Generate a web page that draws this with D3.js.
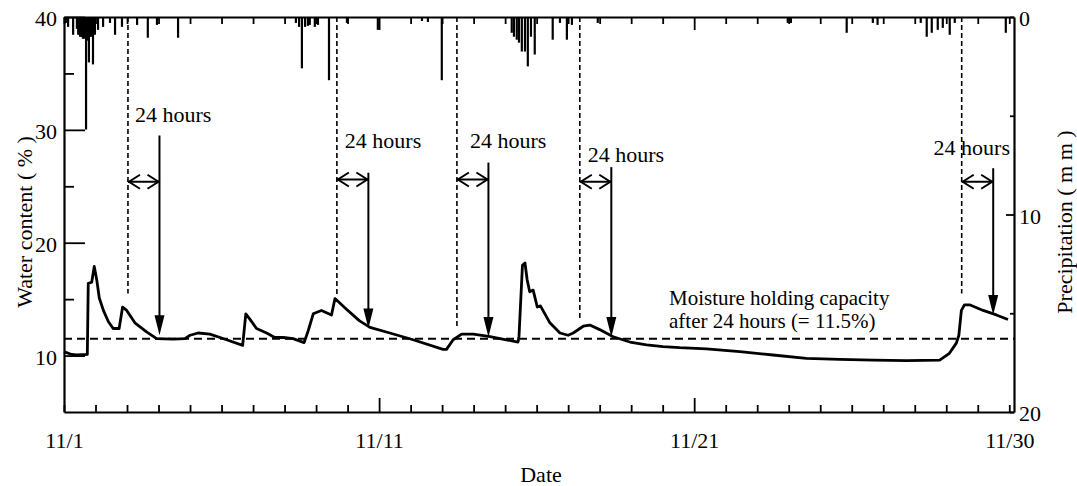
<!DOCTYPE html>
<html>
<head>
<meta charset="utf-8">
<script src="https://cdn.jsdelivr.net/npm/d3@7"></script>
<style>
  html, body { margin: 0; padding: 0; background: #fff; }
  svg { display: block; }
  svg text { font-family: "Liberation Serif", "Times New Roman", Times, Tinos, "Nimbus Roman", "DejaVu Serif", "Noto Serif", serif !important; }
</style>
</head>
<body>
<svg id="chart" width="1077" height="486"></svg>
<script>
// ---------------- DATA ----------------
// Water content (%) : time in days from 11/1 00:00
const wcDay = [0.00,0.24,0.40,0.74,0.77,0.88,0.96,1.04,1.12,1.25,1.41,1.56,1.75,1.86,1.99,2.25,2.62,2.94,3.47,3.84,4.00,4.26,4.63,5.16,5.67,5.77,5.88,6.11,6.43,6.69,6.96,7.27,7.62,7.75,7.91,8.17,8.49,8.60,8.93,9.37,9.71,10.34,11.08,12.03,12.14,12.35,12.62,12.99,13.52,14.04,14.41,14.44,14.55,14.63,14.70,14.78,14.89,15.02,15.12,15.42,15.74,16.00,16.16,16.48,16.69,17.00,17.43,17.96,18.49,19.01,19.54,20.39,21.45,22.50,23.56,24.62,25.68,26.74,27.79,28.10,28.32,28.40,28.48,28.58,28.74,29.17,29.59,29.96];
const wcPct = [10.35,10.1,10.05,10.1,16.4,16.5,17.9,16.7,15.1,14.0,13.0,12.4,12.4,14.3,14.0,12.9,12.1,11.5,11.45,11.5,11.8,12.0,11.9,11.4,10.9,13.7,13.3,12.4,12.0,11.6,11.6,11.5,11.15,12.2,13.7,14.0,13.6,15.05,14.2,13.1,12.5,12.0,11.4,10.55,10.55,11.4,11.9,11.9,11.67,11.4,11.2,11.7,18.0,18.2,16.7,15.65,15.8,14.3,14.4,12.9,12.0,11.8,12.0,12.6,12.7,12.3,11.67,11.2,10.95,10.8,10.7,10.6,10.35,10.05,9.75,9.67,9.6,9.55,9.6,10.2,11.1,11.8,14.0,14.5,14.5,14.0,13.6,13.2];

// Precipitation (mm) : hourly spikes
const rainDay = [0.06,0.13,0.29,0.41,0.45,0.51,0.55,0.57,0.60,0.63,0.66,0.70,0.74,0.79,0.83,0.86,0.92,0.98,1.08,1.24,1.46,1.62,1.84,2.32,2.66,2.95,3.62,7.36,7.46,7.55,7.65,7.74,7.80,7.96,8.06,8.41,8.98,9.96,11.36,11.55,11.99,14.21,14.28,14.37,14.44,14.53,14.63,14.72,14.82,14.94,15.51,15.74,15.96,16.12,16.94,22.97,23.07,24.84,25.67,25.82,27.19,27.38,27.54,27.73,27.89,28.11,28.27,29.89];
const rainMm  = [0.3,0.5,0.9,0.6,0.9,1.0,1.0,1.0,1.1,1.1,1.0,5.7,1.2,2.3,1.0,1.0,2.4,0.9,0.65,0.5,0.3,0.9,0.5,0.4,1.05,0.4,1.05,0.3,0.5,2.6,0.5,0.45,0.4,0.5,0.4,3.2,0.3,0.65,0.2,0.25,3.2,0.8,1.0,1.15,1.3,1.75,1.75,2.5,1.0,1.9,1.15,0.3,1.15,0.4,0.3,0.3,0.3,0.8,0.3,0.4,0.3,1.0,0.8,0.65,0.55,0.9,0.3,0.8];

// 24-hour annotations
const eventStartDay = [2.03, 8.66, 12.47, 16.37, 28.49];
const eventDashBottom = [15.5, 15.4, 12.5, 13.1, 15.5];   // % where dashed line stops
const eventArrowTop = [29.5, 26.2, 27.1, 26.7, 26.6];     // % top of arrow shaft
const eventArrowTip = [11.8, 12.4, 11.65, 11.65, 13.6];   // % arrow tip
const eventSpanLevel = [25.4, 25.6, 25.6, 25.4, 25.4];    // % level of the <-> marker
const eventLabelLevel = [30.7, 28.4, 28.4, 27.15, 27.8];  // % baseline of label
const eventLabel = "24 hours";

const capacityPct = 11.5;
const capacityLabel = ["Moisture holding capacity", "after 24 hours (= 11.5%)"];

const xTickDays = d3.range(0, 31);
const xMajorDays = [0, 10, 20, 30];
const xTickLabels = ["11/1", "11/11", "11/21", "11/30"];
const yLeftTicks = [10, 15, 20, 25, 30, 35, 40];
const yLeftLabels = [10, 20, 30, 40];
const yRightTicks = [0, 5, 10, 15, 20];
const yRightLabels = [0, 10, 20];

// ---------------- CHART ----------------
const svg = d3.select("#chart");
const L = 64, R = 1014, T = 17, B = 412;
const FS = 22;

const x = d3.scaleLinear().domain([0, 30.15]).range([L, R]);
const yL = d3.scaleLinear().domain([5, 40]).range([B, T]);
const yR = d3.scaleLinear().domain([0, 20]).range([T, B]);

// precipitation spikes (hanging from top)
svg.append("g").selectAll("line").data(rainDay).join("line")
  .attr("x1", d => x(d)).attr("x2", d => x(d))
  .attr("y1", yR(0)).attr("y2", (d, i) => yR(rainMm[i]))
  .attr("stroke", "#000").attr("stroke-width", 2.2);

// axes
function styleAxis(g) {
  g.attr("font-size", FS);
  g.select(".domain").attr("stroke", "#000").attr("stroke-width", 2.2);
  g.selectAll(".tick line").attr("stroke", "#000").attr("stroke-width", 1.8);
  g.selectAll(".tick text").attr("fill", "#000");
}
const labelOf = d => { const i = xMajorDays.indexOf(d); return i >= 0 ? xTickLabels[i] : ""; };

const gB = svg.append("g").attr("transform", `translate(0,${B})`)
  .call(d3.axisBottom(x).tickValues(xTickDays).tickSizeInner(-7).tickSizeOuter(0).tickFormat(labelOf));
styleAxis(gB);
gB.selectAll(".tick").filter(d => d === 10 || d === 20).select("line").attr("y2", -14);
gB.selectAll(".tick text").attr("y", 20);

const gT = svg.append("g").attr("transform", `translate(0,${T})`)
  .call(d3.axisTop(x).tickValues(xTickDays).tickSizeInner(-7).tickSizeOuter(0).tickFormat(""));
styleAxis(gT);
gT.selectAll(".tick").filter(d => d === 10 || d === 20).select("line").attr("y2", 13);

const gL = svg.append("g").attr("transform", `translate(${L},0)`)
  .call(d3.axisLeft(yL).tickValues(yLeftTicks).tickSizeInner(-10).tickSizeOuter(0)
    .tickFormat(d => yLeftLabels.includes(d) ? d : ""));
styleAxis(gL);
gL.selectAll(".tick").filter(d => yLeftLabels.includes(d)).select("line").attr("x2", 21);
gL.selectAll(".tick text").attr("x", -7).attr("dy", "0.4em");

const gR = svg.append("g").attr("transform", `translate(${R},0)`)
  .call(d3.axisRight(yR).tickValues(yRightTicks).tickSizeInner(-4).tickSizeOuter(0)
    .tickFormat(d => yRightLabels.includes(d) ? d : ""));
styleAxis(gR);
gR.selectAll(".tick").filter(d => d === 10).select("line").attr("x2", -8);
gR.selectAll(".tick text").attr("x", 5).attr("dy", "0.4em");

// capacity dashed line
svg.append("line")
  .attr("x1", L).attr("x2", R).attr("y1", yL(capacityPct)).attr("y2", yL(capacityPct))
  .attr("stroke", "#000").attr("stroke-width", 2).attr("stroke-dasharray", "8,5");

// water content curve
const line = d3.line().x(d => x(d[0])).y(d => yL(d[1]));
svg.append("path").datum(wcDay.map((d, i) => [d, wcPct[i]]))
  .attr("d", line).attr("fill", "none").attr("stroke", "#000")
  .attr("stroke-width", 2.8).attr("stroke-linejoin", "round");

// annotations
const ann = svg.append("g");
const labelDx = [7, 8, 13, 8, null];
eventStartDay.forEach((t0, i) => {
  const xa = x(t0), xb = x(t0 + 1);
  ann.append("line").attr("x1", xa).attr("x2", xa).attr("y1", T).attr("y2", yL(eventDashBottom[i]))
    .attr("stroke", "#000").attr("stroke-width", 1.6).attr("stroke-dasharray", "5,3");
  // down arrow
  const tipY = yL(eventArrowTip[i]);
  ann.append("line").attr("x1", xb).attr("x2", xb).attr("y1", yL(eventArrowTop[i])).attr("y2", tipY - 12)
    .attr("stroke", "#000").attr("stroke-width", 2);
  ann.append("path").attr("d", `M${xb},${tipY} L${xb - 5},${tipY - 20} L${xb + 5},${tipY - 20} Z`).attr("fill", "#000");
  // <-> marker
  const ys = yL(eventSpanLevel[i]);
  ann.append("line").attr("x1", xa).attr("x2", xb).attr("y1", ys).attr("y2", ys)
    .attr("stroke", "#000").attr("stroke-width", 2);
  ann.append("path").attr("d", `M${xa + 12},${ys - 7} L${xa + 1},${ys} L${xa + 12},${ys + 7}`)
    .attr("fill", "none").attr("stroke", "#000").attr("stroke-width", 2);
  ann.append("path").attr("d", `M${xb - 12},${ys - 7} L${xb - 1},${ys} L${xb - 12},${ys + 7}`)
    .attr("fill", "none").attr("stroke", "#000").attr("stroke-width", 2);
  // label
  const t = ann.append("text").attr("font-size", FS).attr("y", yL(eventLabelLevel[i])).text(eventLabel);
  if (labelDx[i] === null) t.attr("x", R - 4).attr("text-anchor", "end");
  else t.attr("x", xa + labelDx[i]);
});

// capacity label
svg.append("text").attr("font-size", 21).attr("x", 669).attr("y", 305).text(capacityLabel[0]);
svg.append("text").attr("font-size", 21).attr("x", 669).attr("y", 328).text(capacityLabel[1]);

// axis titles
svg.append("text").attr("font-size", FS).attr("text-anchor", "middle")
  .attr("x", (L + R) / 2 + 2).attr("y", 482).text("Date");
svg.append("text").attr("font-size", FS).attr("text-anchor", "middle")
  .attr("transform", "translate(32,222) rotate(-90)").text("Water content  ( % )");
svg.append("text").attr("font-size", FS).attr("text-anchor", "middle")
  .attr("transform", "translate(1072,222) rotate(-90)").text("Precipitation  ( m m )");
</script>
</body>
</html>
